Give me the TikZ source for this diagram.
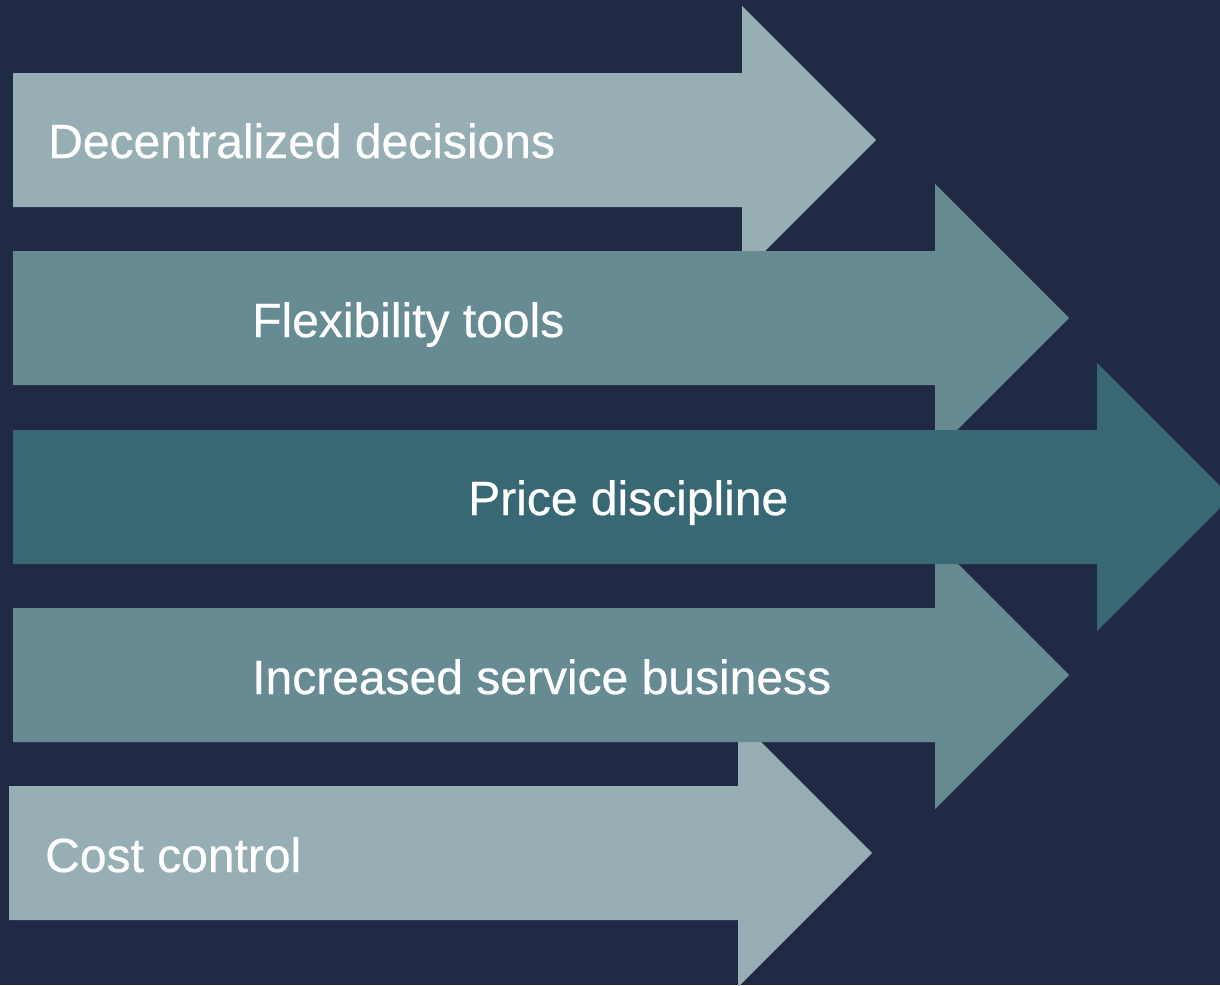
\documentclass[tikz,border=0pt]{standalone}
\usepackage{fontspec}
\setmainfont{Liberation Sans}
\usepackage{tikz}
\usetikzlibrary{positioning}

\definecolor{navy}{HTML}{202A45}
\definecolor{palegrey}{HTML}{97AFB4}
\definecolor{midteal}{HTML}{678B93}
\definecolor{deepteal}{HTML}{396875}

% one arrow: #1 colour, #2 left end, #3 start of head, #4 centre line
\newcommand{\bigarrow}[4]{%
	\fill[#1] (#2,#4-67) -- (#3,#4-67) -- (#3,#4-134) -- (#3+134,#4)
	-- (#3,#4+134) -- (#3,#4+67) -- (#2,#4+67) -- cycle;}

\begin{document}
\begin{tikzpicture}[x=1pt,y=-1pt,
	label node/.style={anchor=base west,inner sep=0pt,text=white,
		font=\fontsize{48}{56}\selectfont\addfontfeature{FakeBold=0.5}}]
	
	\useasboundingbox (0,0) rectangle (1220,985);
	\clip (0,0) rectangle (1220,985);
	\fill[navy] (0,0) rectangle (1220,985);
	
	\bigarrow{palegrey}{13}{742}{140}
	\bigarrow{midteal}{13}{935}{318}
	\bigarrow{palegrey}{9}{738}{853}
	\bigarrow{midteal}{13}{935}{675}
	\bigarrow{deepteal}{13}{1097}{497}
	
	\node[label node] (dec) at (48,158) {Decentralized decisions};
	\node[label node] (flex) at (252,337) {Flexibility tools};
	\node[label node] (price) at (468,515) {Price discipline};
	\node[label node] (serv) at (252,694) {Increased service business};
	\node[label node] (cost) at (45,872) {Cost control};
\end{tikzpicture}
\end{document}
